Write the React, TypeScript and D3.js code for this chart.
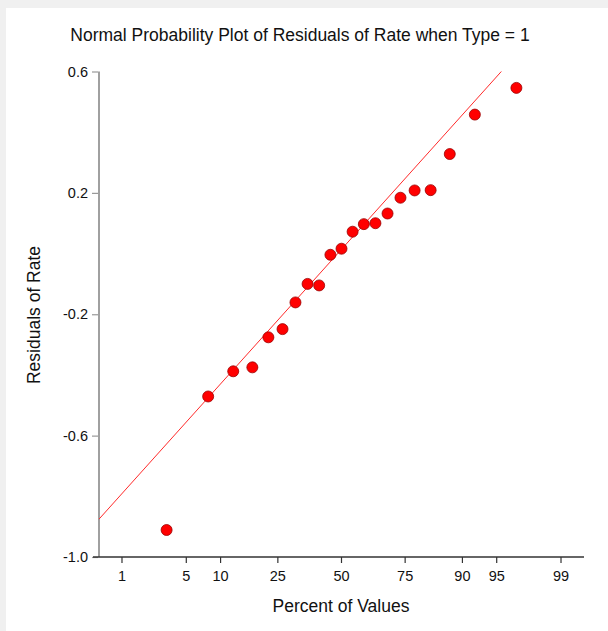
import { useEffect, useRef } from 'react';
import * as d3 from 'd3';

// residuals sorted, with their normal plotting positions (percent)
const percents = [3.19, 7.88, 12.56, 17.24, 21.92, 26.6, 31.28, 35.96, 40.64, 45.32, 50,
    54.68, 59.36, 64.04, 68.72, 73.4, 78.08, 82.76, 87.44, 92.12, 96.81];
const residuals = [-0.911, -0.471, -0.388, -0.375, -0.276, -0.249, -0.161, -0.1, -0.105, -0.004, 0.016,
    0.072, 0.097, 0.1, 0.132, 0.184, 0.208, 0.209, 0.328, 0.458, 0.546];

const xTickValues = [1, 5, 10, 25, 50, 75, 90, 95, 99];
const yTickValues = [-1.0, -0.6, -0.2, 0.2, 0.6];

// reference line: residual = intercept + slope * z
const fitIntercept = 0.014;
const fitSlope = 0.346;

const FONT = 'Arial, "Liberation Sans", sans-serif';

const CHART = {
    width: 608,
    height: 631,
    left: 99,
    right: 584,
    top: 71.5,
    bottom: 557
};

// inverse normal cdf (Acklam)
function probit(p: number) {
    const a = [-39.69683028665376, 220.9460984245205, -275.9285104469687, 138.357751867269, -30.66479806614716, 2.506628277459239];
    const b = [-54.47609879822406, 161.5858368580409, -155.6989798598866, 66.80131188771972, -13.28068155288572];
    const c = [-0.007784894002430293, -0.3223964580411365, -2.400758277161838, -2.549732539343734, 4.374664141464968, 2.938163982698783];
    const d = [0.007784695709041462, 0.3224671290700398, 2.445134137142996, 3.754408661907416];
    const pl = 0.02425;
    if (p < pl) {
        const q = Math.sqrt(-2 * Math.log(p));
        return (((((c[0] * q + c[1]) * q + c[2]) * q + c[3]) * q + c[4]) * q + c[5]) /
            ((((d[0] * q + d[1]) * q + d[2]) * q + d[3]) * q + 1);
    }
    if (p > 1 - pl) {
        const q = Math.sqrt(-2 * Math.log(1 - p));
        return -(((((c[0] * q + c[1]) * q + c[2]) * q + c[3]) * q + c[4]) * q + c[5]) /
            ((((d[0] * q + d[1]) * q + d[2]) * q + d[3]) * q + 1);
    }
    const q = p - 0.5;
    const r = q * q;
    return (((((a[0] * r + a[1]) * r + a[2]) * r + a[3]) * r + a[4]) * r + a[5]) * q /
        (((((b[0] * r + b[1]) * r + b[2]) * r + b[3]) * r + b[4]) * r + 1);
}

export default function App() {
    const xAxis = useRef<SVGGElement>(null);
    const yAxis = useRef<SVGGElement>(null);

    const zScale = d3.scaleLinear().domain([-2.57, 2.57]).range([CHART.left, CHART.right]);
    const xScale = (pct: number) => zScale(probit(pct / 100));
    const yScale = d3.scaleLinear().domain([-1.0, 0.6]).range([CHART.bottom, CHART.top]);

    useEffect(() => {
        // x axis on probit scale
        const gx = d3.select(xAxis.current);
        gx.selectAll('*').remove();
        gx.append('line')
            .attr('x1', CHART.left - 6).attr('x2', CHART.right)
            .attr('y1', 0).attr('y2', 0)
            .attr('stroke', '#333').attr('stroke-width', 1.5);
        const ticks = gx.selectAll('g.tick').data(xTickValues).enter().append('g')
            .attr('class', 'tick')
            .attr('transform', (d) => `translate(${xScale(d)},0)`);
        ticks.append('line').attr('y1', 0).attr('y2', 6).attr('stroke', '#333').attr('stroke-width', 1.2);
        ticks.append('text')
            .attr('y', 24)
            .attr('text-anchor', 'middle')
            .attr('font-family', FONT)
            .attr('font-size', 14.5)
            .attr('fill', '#111')
            .text((d) => String(d));

        const yAxisFn = d3.axisLeft(yScale)
            .tickValues(yTickValues)
            .tickSize(6)
            .tickPadding(4)
            .tickFormat((d) => (+d).toFixed(1));
        const gy = d3.select(yAxis.current).call(yAxisFn);
        gy.select('.domain').remove();
        gy.selectAll('.tick line').attr('stroke', '#999').attr('stroke-width', 1.2);
        gy.selectAll('.tick text')
            .attr('font-family', FONT)
            .attr('font-size', 14.5)
            .attr('fill', '#111');
    }, []);

    const zLeft = zScale.domain()[0];
    const zTop = (0.6 - fitIntercept) / fitSlope;

    return (
        <div style={{ position: 'fixed', left: 0, top: 0 }}>
            <svg width={CHART.width} height={CHART.height} style={{ display: 'block' }}>
                <rect x={0} y={0} width={CHART.width} height={CHART.height} fill="#f0f0f0" />
                <rect x={6} y={8} width={CHART.width - 6} height={CHART.height - 8} fill="#fff" />

                <text x={300} y={41} textAnchor="middle" fontFamily={FONT} fontSize={17.5} fill="#111">
                    Normal Probability Plot of Residuals of Rate when Type = 1
                </text>

                {/* Axes */}
                <line x1={CHART.left} x2={CHART.left} y1={CHART.top} y2={CHART.bottom}
                    stroke="#a0a0a0" strokeWidth={2} />
                <g ref={yAxis} transform={`translate(${CHART.left - 1},0)`} />
                <g ref={xAxis} transform={`translate(0,${CHART.bottom})`} />

                <text x={341} y={612} textAnchor="middle" fontFamily={FONT} fontSize={17.5} fill="#111">
                    Percent of Values
                </text>
                <text transform={`translate(40,315) rotate(-90)`} textAnchor="middle" fontFamily={FONT}
                    fontSize={17.5} fill="#111">
                    Residuals of Rate
                </text>

                {/* reference line */}
                <line x1={zScale(zLeft)} y1={yScale(fitIntercept + fitSlope * zLeft)}
                    x2={zScale(zTop)} y2={yScale(fitIntercept + fitSlope * zTop)}
                    stroke="#ff2a2a" strokeWidth={1} />

                {/* points */}
                {residuals.map((r, i) => (
                    <circle key={i} cx={xScale(percents[i])} cy={yScale(r)} r={5.5}
                        fill="#ff0000" stroke="#990000" strokeWidth={0.8} />
                ))}
            </svg>
        </div>
    );
}
